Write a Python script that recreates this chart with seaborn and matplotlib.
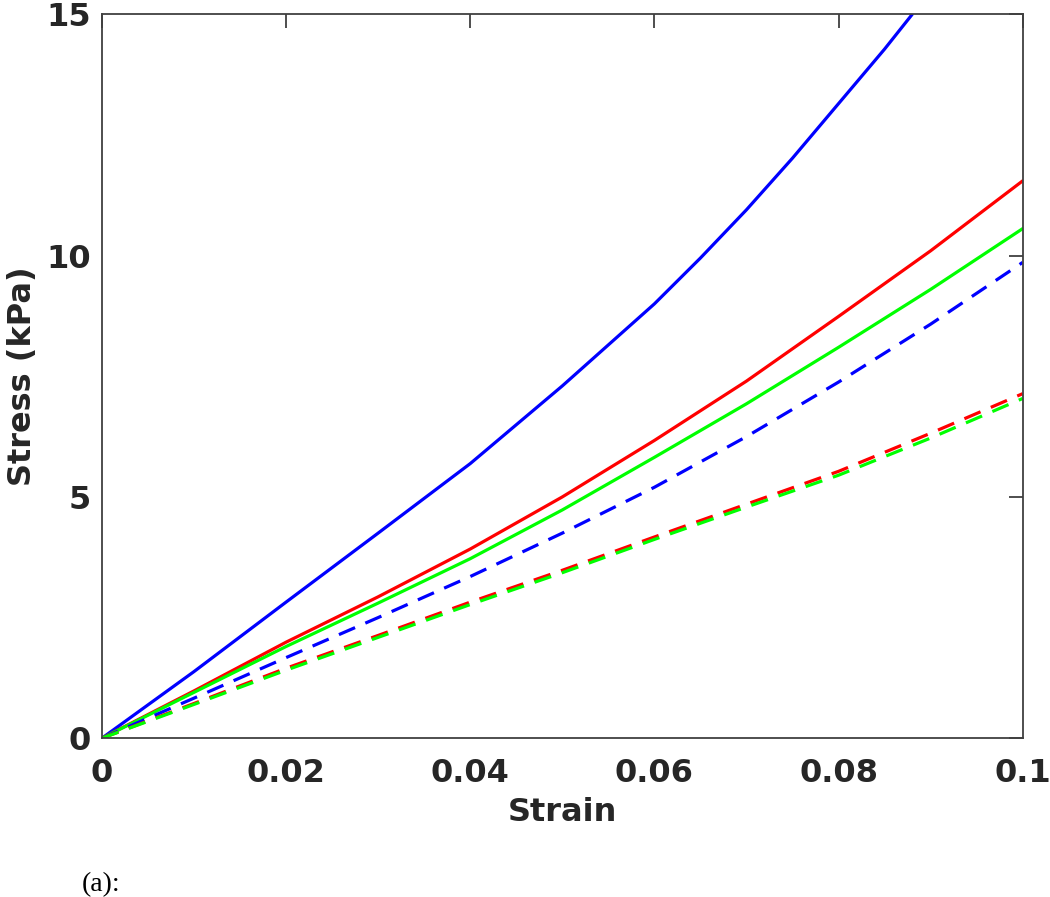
import numpy as np
import pandas as pd
import matplotlib
matplotlib.use("Agg")
import matplotlib.pyplot as plt
import seaborn as sns

# ── Data ─────────────────────────────────────────────────────────────────────
strain = [0.0, 0.01, 0.02, 0.03, 0.04, 0.05, 0.06, 0.07, 0.08, 0.09, 0.10]
strain_blue = [0.0, 0.01, 0.02, 0.03, 0.04, 0.05, 0.06, 0.065, 0.07, 0.075,
               0.08, 0.085, 0.088]

blue_solid = [0.0, 1.38, 2.82, 4.25, 5.69, 7.30, 9.00, 9.95, 10.95, 12.02,
              13.15, 14.28, 15.0]
red_solid = [0.0, 0.98, 1.99, 2.93, 3.92, 5.00, 6.17, 7.40, 8.74, 10.10, 11.55]
green_solid = [0.0, 0.95, 1.90, 2.80, 3.72, 4.73, 5.82, 6.93, 8.10, 9.30, 10.56]
blue_dashed = [0.0, 0.83, 1.67, 2.50, 3.35, 4.25, 5.20, 6.25, 7.38, 8.58, 9.86]
red_dashed = [0.0, 0.72, 1.45, 2.13, 2.82, 3.48, 4.17, 4.85, 5.53, 6.32, 7.14]
green_dashed = [0.0, 0.70, 1.41, 2.09, 2.77, 3.43, 4.12, 4.79, 5.45, 6.22, 7.04]

x_ticks = [0, 0.02, 0.04, 0.06, 0.08, 0.1]
x_ticklabels = ["0", "0.02", "0.04", "0.06", "0.08", "0.1"]
y_ticks = [0, 5, 10, 15]

# ── Style ────────────────────────────────────────────────────────────────────
sns.set_style("white")
plt.rcParams["font.family"] = ["DejaVu Sans"]
AX_COLOR = "#404040"

fig = plt.figure(figsize=(10.5, 8.97), dpi=100)
ax = fig.add_axes([0.097, 0.177, 0.877, 0.807])

series = [
    (strain_blue, blue_solid, "#0000FF", "-"),
    (strain, red_solid, "#FF0000", "-"),
    (strain, green_solid, "#00FF00", "-"),
    (strain, blue_dashed, "#0000FF", "--"),
    (strain, red_dashed, "#FF0000", "--"),
    (strain, green_dashed, "#00FF00", "--"),
]
for xs, ys, color, ls in series:
    sns.lineplot(x=xs, y=ys, ax=ax, color=color, linewidth=2.3,
                 linestyle=ls, sort=False)
for ln in ax.get_lines():
    if ln.get_linestyle() == "--":
        ln.set_dashes((5.5, 3.5))

ax.set_xlim(0, 0.1)
ax.set_ylim(0, 15)
ax.set_xticks(x_ticks)
ax.set_xticklabels(x_ticklabels)
ax.set_yticks(y_ticks)

for s in ax.spines.values():
    s.set_color(AX_COLOR)
    s.set_linewidth(1.3)
ax.tick_params(direction="in", length=10, width=1.3, color=AX_COLOR,
               top=True, right=True, labelsize=23)
ax.tick_params(axis="x", pad=14)
ax.tick_params(axis="y", pad=8)
for lab in ax.get_xticklabels() + ax.get_yticklabels():
    lab.set_fontweight("bold")
    lab.set_color("#262626")

ax.set_xlabel("Strain", fontsize=23, fontweight="bold", color="#262626", labelpad=6)
ax.set_ylabel("Stress (kPa)", fontsize=23, fontweight="bold", color="#262626", labelpad=6)

fig.text(0.078, 0.014, "(a):", fontsize=20, family=["Liberation Serif"],
         color="black", va="center")

fig.savefig("out.png", dpi=100)
